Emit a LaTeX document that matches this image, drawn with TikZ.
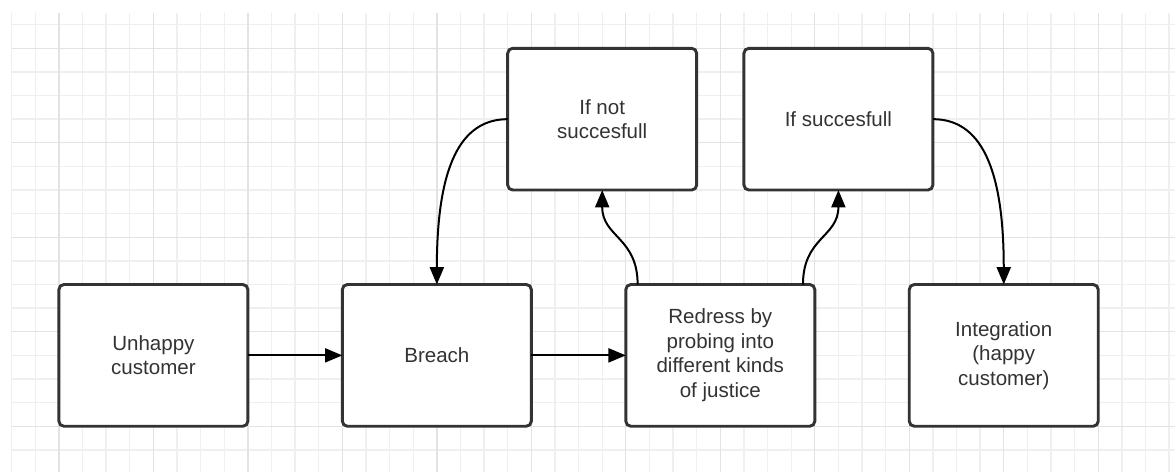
\documentclass[tikz,border=0pt]{standalone}
\usepackage{fontspec}
\setmainfont{Liberation Sans}
\usetikzlibrary{positioning,arrows.meta,calc}
\definecolor{boxline}{HTML}{333333}
\definecolor{gridminor}{HTML}{EFEFEF}
\definecolor{gridmajor}{HTML}{E3E3E3}

\begin{document}
\begin{tikzpicture}[x=17.715pt,y=-17.715pt,
		box/.style={rectangle,draw=boxline,fill=white,line width=2.2pt,rounded corners=3.75pt,
			minimum width=141.72pt,minimum height=106.29pt,outer sep=0pt,align=center,
			text=boxline,font=\fontsize{15.4}{18.4}\selectfont},
		arr/.style={-{Triangle[length=13pt,width=10.5pt]},line width=1.5pt},
		node distance=70.86pt]
		\useasboundingbox (-2.494,-2.045) rectangle (47.25,17.94);

		% grid paper
		\foreach \x in {-2,...,47} \draw[gridminor,line width=1pt] (\x,-1.5) -- (\x,17.94);
		\foreach \y in {-1,...,17} \draw[gridminor,line width=1pt] (-2,\y) -- (47.25,\y);
		\foreach \x in {0,4,...,44} \draw[gridmajor,line width=1pt] (\x,-1.5) -- (\x,17.94);
		\foreach \y in {0,4,...,16} \draw[gridmajor,line width=1pt] (-2,\y) -- (47.25,\y);

		\node[box] at (4,13)			(unhappy)	{Unhappy\\customer};
		\node[box,right=of unhappy]		(breach)	{Breach};
		\node[box,right=of breach]		(redress)	{Redress by\\probing into\\different kinds\\of justice};
		\node[box,right=of redress]		(integ)		{Integration\\(happy\\customer)};
		\node[box] at (23,3)			(fail)		{If not\\succesfull};
		\node[box] at (33,3)			(succ)		{If succesfull};

		\draw[arr] (unhappy) -- (breach);
		\draw[arr] (breach) -- (redress);
		\draw[arr] ($(redress.north west)+(0.5,0)$) .. controls (24.5,8) and (23,8) .. (fail.south);
		\draw[arr] ($(redress.north east)+(-0.5,0)$) .. controls (31.5,8) and (33,8) .. (succ.south);
		\draw[arr] (fail.west) .. controls (17,3) and (16,5) .. (breach.north);
		\draw[arr] (succ.east) .. controls (39,3) and (40,5) .. (integ.north);
	\end{tikzpicture}
\end{document}
